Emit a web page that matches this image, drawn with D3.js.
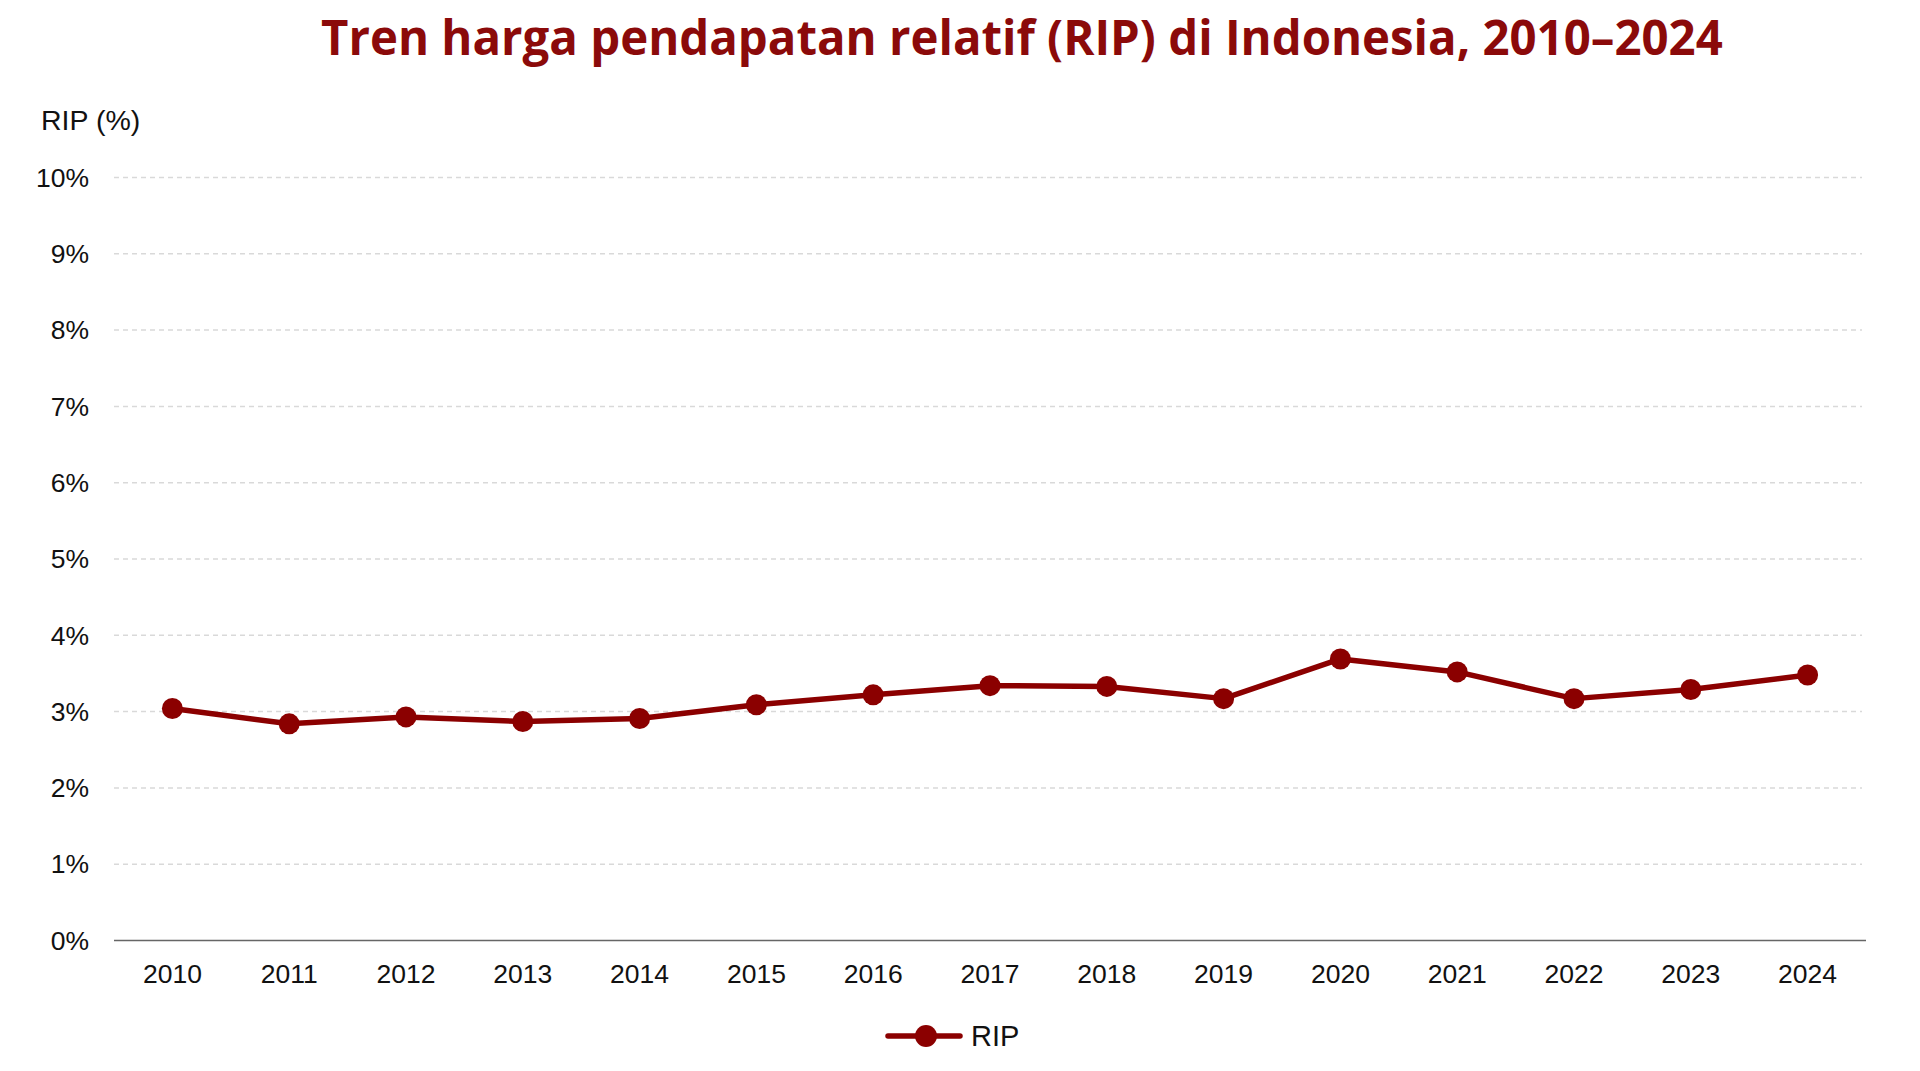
<!DOCTYPE html>
<html>
<head>
<meta charset="utf-8">
<script src="https://cdn.jsdelivr.net/npm/d3@7"></script>
<style>
  html, body { margin: 0; padding: 0; background: #fff; }
  svg { display: block; }
</style>
</head>
<body>
<svg id="chart"></svg>
<script>
const years = ["2010", "2011", "2012", "2013", "2014", "2015", "2016", "2017",
               "2018", "2019", "2020", "2021", "2022", "2023", "2024"];
const ripValues = [3.04, 2.84, 2.93, 2.87, 2.91, 3.09, 3.22, 3.34,
                   3.33, 3.17, 3.69, 3.52, 3.17, 3.29, 3.48];
const yTicks = [0, 1, 2, 3, 4, 5, 6, 7, 8, 9, 10];
const titleText = "Tren harga pendapatan relatif (RIP) di Indonesia, 2010\u20132024";
const yAxisTitle = "RIP (%)";
const seriesName = "RIP";

function createChart() {
    let w = 1920, h = 1071;
    let left = 114, right = 1866, top = 177.5, bottom = 940.5;
    let red = "#8b0000";

    let svg = d3.select("#chart")
        .attr("width", w)
        .attr("height", h);

    svg.append("rect")
        .attr("width", w).attr("height", h)
        .attr("fill", "#fff");

    let x = d3.scalePoint()
        .domain(years)
        .range([left, right])
        .padding(0.5);

    let y = d3.scaleLinear()
        .domain([0, 10])
        .range([bottom, top]);

    // title, squeezed to the width it has in the original
    let title = svg.append("text")
        .attr("x", 0)
        .attr("y", 0)
        .attr("font-family", "'Open Sans', sans-serif")
        .attr("font-weight", 700)
        .attr("font-size", 48)
        .attr("fill", "#8b0a0a")
        .text(titleText);
    let tw = title.node().getComputedTextLength();
    title.attr("transform", `translate(321,55) scale(${1402 / tw},1)`);

    // grid lines
    svg.append("g")
        .selectAll("line")
        .data(yTicks.filter(d => d > 0))
        .join("line")
        .attr("x1", left)
        .attr("x2", right - 4)
        .attr("y1", d => y(d))
        .attr("y2", d => y(d))
        .attr("stroke", "#d9d9d9")
        .attr("stroke-width", 1.5)
        .attr("stroke-dasharray", "5,4");

    // baseline
    svg.append("line")
        .attr("x1", left).attr("x2", right)
        .attr("y1", y(0)).attr("y2", y(0))
        .attr("stroke", "#666")
        .attr("stroke-width", 1.6);

    // y labels
    svg.append("g")
        .selectAll("text")
        .data(yTicks)
        .join("text")
        .attr("x", 89)
        .attr("y", d => y(d))
        .attr("dy", "0.35em")
        .attr("text-anchor", "end")
        .attr("font-family", "'Liberation Sans', Arial, sans-serif")
        .attr("font-size", 26.5)
        .attr("fill", "#111")
        .text(d => d + "%");

    svg.append("text")
        .attr("x", 41)
        .attr("y", 130)
        .attr("font-family", "'Liberation Sans', Arial, sans-serif")
        .attr("font-size", 28.5)
        .attr("fill", "#111")
        .text(yAxisTitle);

    // x labels
    svg.append("g")
        .selectAll("text")
        .data(years)
        .join("text")
        .attr("x", d => x(d))
        .attr("y", 983)
        .attr("text-anchor", "middle")
        .attr("font-family", "'Liberation Sans', Arial, sans-serif")
        .attr("font-size", 26.5)
        .attr("fill", "#111")
        .text(d => d);

    // the series
    let line = d3.line()
        .x((d, i) => x(years[i]))
        .y(d => y(d));

    svg.append("path")
        .datum(ripValues)
        .attr("d", line)
        .attr("fill", "none")
        .attr("stroke", red)
        .attr("stroke-width", 5.5)
        .attr("stroke-linejoin", "round");

    svg.append("g")
        .selectAll("circle")
        .data(ripValues)
        .join("circle")
        .attr("cx", (d, i) => x(years[i]))
        .attr("cy", d => y(d))
        .attr("r", 10.5)
        .attr("fill", red);

    // legend
    let legend = svg.append("g").attr("transform", "translate(888,1036)");
    legend.append("line")
        .attr("x1", 0).attr("x2", 72)
        .attr("stroke", red)
        .attr("stroke-width", 5.5)
        .attr("stroke-linecap", "round");
    legend.append("circle")
        .attr("cx", 38)
        .attr("r", 11)
        .attr("fill", red);
    legend.append("text")
        .attr("x", 83)
        .attr("y", 10)
        .attr("font-family", "'Liberation Sans', Arial, sans-serif")
        .attr("font-size", 29)
        .attr("fill", "#111")
        .text(seriesName);
}

window.onload = function() {
    createChart();
};
</script>
</body>
</html>
